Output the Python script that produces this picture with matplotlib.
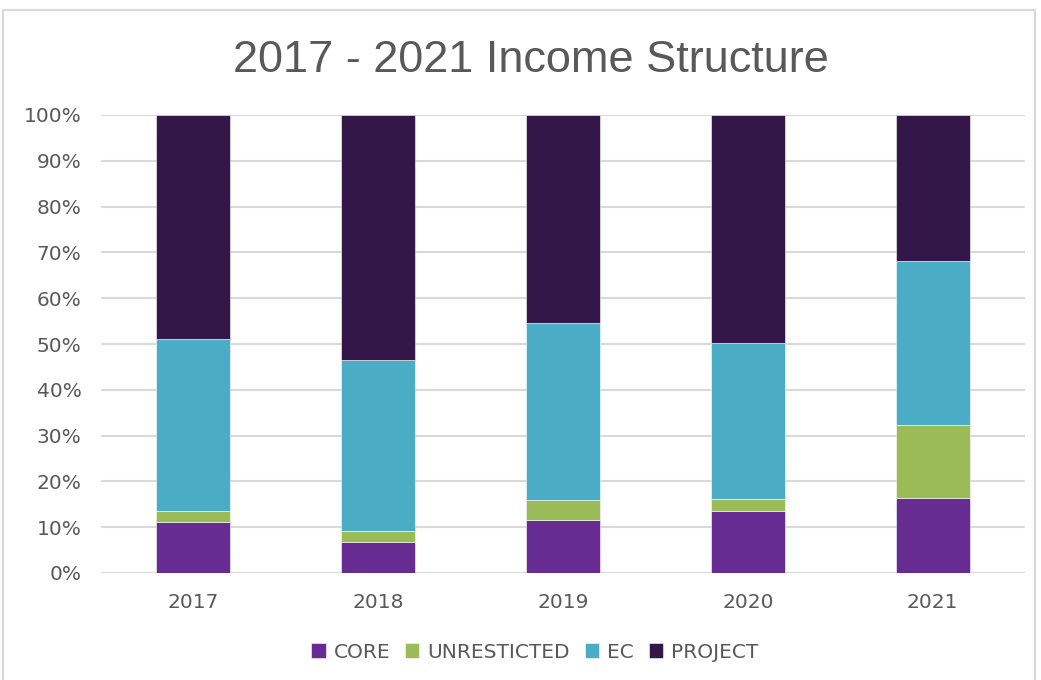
import numpy as np
import matplotlib.pyplot as plt
from matplotlib.patches import Rectangle

# 데이터 (누적 비율, %)
years = ['2017', '2018', '2019', '2020', '2021']
core = [11.1, 6.8, 11.5, 13.5, 16.4]
unrestricted = [2.5, 2.4, 4.4, 2.6, 15.9]
ec = [37.5, 37.3, 38.7, 34.1, 35.8]
project = [48.9, 53.5, 45.4, 49.8, 31.9]

series = [('CORE', core, '#662c91'),
          ('UNRESTICTED', unrestricted, '#9bbb59'),
          ('EC', ec, '#4bacc6'),
          ('PROJECT', project, '#341749')]

text_color = '#595959'
plt.rcParams['font.family'] = ['DejaVu Sans']

fig = plt.figure(figsize=(10.41, 6.80), dpi=100)
ax = fig.add_axes([101/1041, 107/680, 924/1041, 458/680])

x = np.arange(len(years))
bottom = np.zeros(len(years))
for name, vals, color in series:
    ax.bar(x, vals, width=0.4, bottom=bottom, color=color, label=name,
           edgecolor='white', linewidth=0.4, zorder=3)
    bottom += np.array(vals)

ax.set_xlim(-0.5, len(years) - 0.5)
ax.set_ylim(0, 100)
ax.set_yticks(np.arange(0, 101, 10))
ax.set_yticklabels([f'{v}%' for v in range(0, 101, 10)])
ax.set_xticks(x)
ax.set_xticklabels(years)
ax.tick_params(length=0, labelsize=14.5, colors=text_color)
ax.tick_params(axis='x', pad=14.5)
ax.tick_params(axis='y', pad=14)
ax.grid(axis='y', color='#d9d9d9', linewidth=1.5, zorder=0)
for s in ax.spines.values():
    s.set_visible(False)

fig.text(531/1041, 1 - 60/680, '2017 - 2021 Income Structure', ha='center', va='center',
         fontsize=32.5, color=text_color, family=['Liberation Sans'])

fig.legend(loc='center', bbox_to_anchor=(535/1041, 1 - 652/680), ncol=4, frameon=False,
           fontsize=14.5, labelcolor=text_color, handlelength=0.7, handleheight=0.7,
           handletextpad=0.4, columnspacing=0.75)

# 차트 테두리
fig.patches.append(Rectangle((3/1041, -0.01), 1032/1041, 1 - 10/680 + 0.01,
                             transform=fig.transFigure, fill=False,
                             edgecolor='#d9d9d9', linewidth=1.5))

fig.savefig('out.png', dpi=100)
